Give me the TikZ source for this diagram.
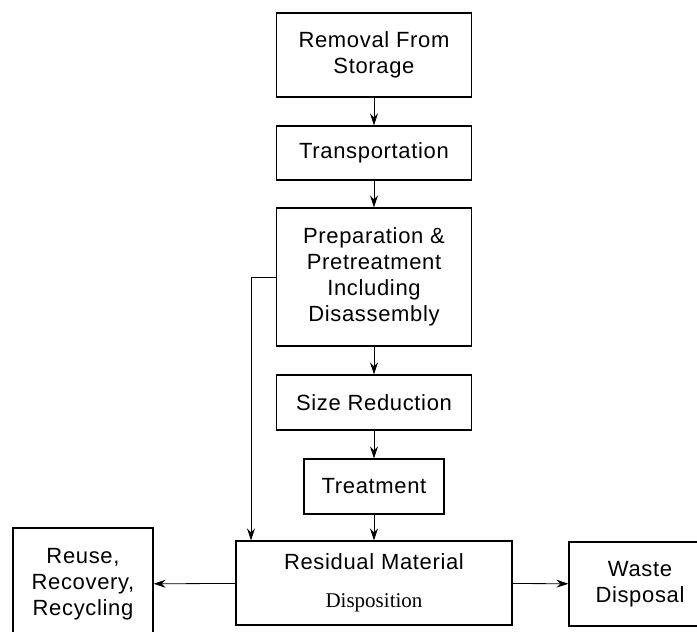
\documentclass[tikz,border=0pt]{standalone}
\usepackage{fontspec}
\setmainfont[LetterSpace=3]{Liberation Sans}
\newfontfamily\dispfont{Liberation Serif}
\usepackage{tikz}
\usetikzlibrary{arrows.meta}

\begin{document}
\begin{tikzpicture}[x=1pt,y=-1pt,
		stage/.style={draw,line width=1.3pt,align=center,inner sep=0pt,
			font=\fontsize{22}{26}\selectfont,minimum width=195pt},
		flow/.style={-{Stealth[length=12pt,width=8pt,inset=4pt]},line width=.8pt}]
			\useasboundingbox (0,0) rectangle (697,632);
			\node[stage,minimum height=84pt] (removal) at (374,55) {Removal From\\Storage};
			\node[stage,minimum height=54pt] (transport) at (374,153) {Transportation};
			\node[stage,minimum height=138pt] (prep) at (374,277) {Preparation \&\\Pretreatment\\Including\\Disassembly};
			\node[stage,minimum height=55pt] (size) at (374,402.5) {Size Reduction};
			\node[stage,minimum width=140pt,minimum height=55pt] (treat) at (374,486.5) {Treatment};
			\node[stage,minimum width=276pt,minimum height=84pt] (resid) at (374,583) {Residual Material\\[12pt]{\dispfont\fontsize{21}{24}\selectfont Disposition}};
			\node[stage,minimum width=140pt,minimum height=112pt] (reuse) at (83,584) {Reuse,\\Recovery,\\Recycling};
			\node[stage,minimum width=142pt,minimum height=84pt] (waste) at (640,584) {Waste\\Disposal};
			
			\draw[flow] (removal) -- (transport);
			\draw[flow] (transport) -- (prep);
			\draw[flow] (prep) -- (size);
			\draw[flow] (size) -- (treat);
			\draw[flow] (treat) -- (resid);
			\coordinate (bypass) at (251,277);
			\draw[flow] (prep.west) -- (bypass) -- (bypass |- resid.north);
			\draw[flow] (resid) -- (reuse);
			\draw[flow] (resid) -- (waste);
		\end{tikzpicture}
\end{document}
